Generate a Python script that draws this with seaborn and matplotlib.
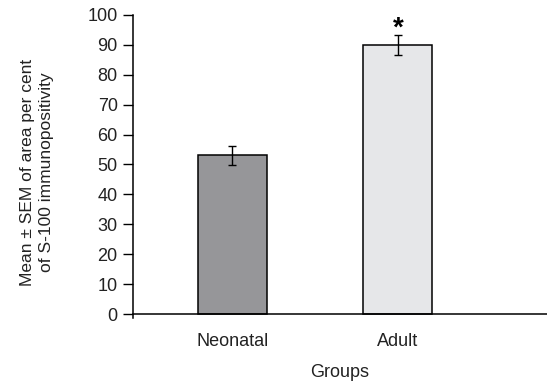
"""Bar chart of S-100 immunopositivity for neonatal vs adult groups."""
import numpy as np
import pandas as pd
import seaborn as sns
import matplotlib
matplotlib.use('Agg')
import matplotlib.pyplot as plt

groups = ['Neonatal', 'Adult']
means = [53, 90]
sems = [3.3, 3.3]
bar_colors = ['#959699', '#e6e7e9']
y_ticks = list(range(0, 101, 10))

sns.set_theme(style='white')
plt.rcParams['font.family'] = ['Liberation Sans', 'DejaVu Sans']

df = pd.DataFrame({'group': groups, 'mean': means})

fig = plt.figure(figsize=(5.47, 3.83), dpi=100)
ax = fig.add_axes([0.243, 0.170, 0.757, 0.791])

sns.barplot(data=df, x='group', y='mean', hue='group', palette=bar_colors,
            width=0.417, edgecolor='black', linewidth=1.1, legend=False, ax=ax)

# Error bars (mean +/- SEM)
ax.errorbar(np.arange(len(groups)), means, yerr=sems, fmt='none',
            ecolor='black', elinewidth=1.0, capsize=2.7, capthick=1.0)

# Significance marker
ax.text(1, means[1] + sems[1] - 2.3, '*', ha='center', va='bottom',
        fontsize=20, fontweight='bold', color='black')

ax.set_xlim(-0.60, 1.90)
ax.set_ylim(-1.3, 100)
ax.set_yticks(y_ticks)
ax.set_yticklabels([str(t) for t in y_ticks], fontsize=13)
ax.tick_params(axis='y', direction='out', length=7, width=1, color='black',
               left=True, pad=4, labelcolor='#222222')
ax.tick_params(axis='x', length=0, labelsize=13, pad=14, labelcolor='#222222')

ax.spines['top'].set_visible(False)
ax.spines['right'].set_visible(False)
ax.spines['bottom'].set_position(('data', 0))
for s in ['left', 'bottom']:
    ax.spines[s].set_color('black')
    ax.spines[s].set_linewidth(1.1)

ax.set_xlabel('Groups', fontsize=13, labelpad=10, color='#222222')
ax.set_ylabel('Mean \u00b1 SEM of area per cent\nof S-100 immunopositivity',
              fontsize=12.5, labelpad=24, color='#222222', linespacing=1.3)
ax.yaxis.label.set_y(0.48)

fig.savefig('out.png', dpi=100)
